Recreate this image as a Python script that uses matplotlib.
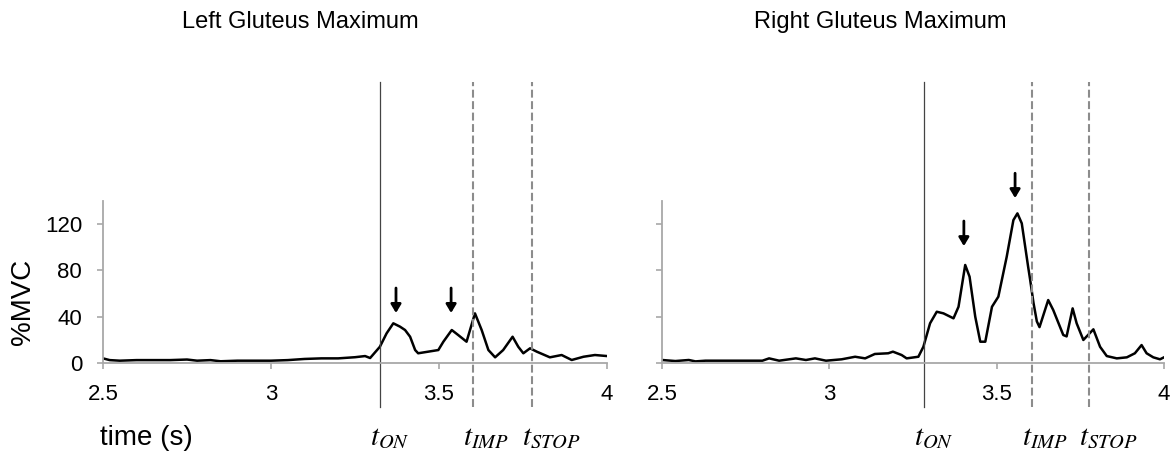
import matplotlib
matplotlib.use("Agg")
import matplotlib.pyplot as plt

plt.rcParams['font.family'] = 'Liberation Sans'
plt.rcParams['mathtext.fontset'] = 'stix'

# --- data ---
left_t = [2.50, 2.52, 2.55, 2.60, 2.65, 2.70, 2.75, 2.78, 2.82, 2.85, 2.90, 2.95, 3.00, 3.05,
          3.10, 3.15, 3.20, 3.25, 3.28, 3.295, 3.324, 3.344, 3.364, 3.384, 3.399, 3.414, 3.429,
          3.438, 3.468, 3.498, 3.513, 3.538, 3.557, 3.582, 3.607, 3.627, 3.647, 3.667, 3.691,
          3.719, 3.736, 3.751, 3.771, 3.791, 3.830, 3.865, 3.895, 3.930, 3.964, 4.0]
left_v = [4, 2.5, 2, 2.5, 2.5, 2.5, 3, 2, 2.5, 1.5, 2, 2, 2, 2.5,
          3.5, 4, 4, 5, 6, 4.3, 14, 25.6, 34.3, 31.4, 28.5, 22.7, 11.2,
          8.4, 9.8, 11.2, 18.4, 28.5, 24.2, 18.4, 42.9, 28.5, 11.2, 4.9, 11.2,
          22.7, 14, 8.4, 12.7, 9.8, 4.9, 6.9, 2.6, 5.4, 6.9, 6]

right_t = [2.50, 2.54, 2.58, 2.60, 2.63, 2.70, 2.80, 2.82, 2.85, 2.90, 2.93, 2.957, 2.99, 3.037,
           3.077, 3.107, 3.136, 3.176, 3.19, 3.216, 3.231, 3.266, 3.281, 3.301, 3.321, 3.341,
           3.371, 3.386, 3.406, 3.419, 3.436, 3.451, 3.466, 3.486, 3.505, 3.530, 3.550, 3.562,
           3.575, 3.594, 3.600, 3.610, 3.620, 3.628, 3.654, 3.669, 3.699, 3.709, 3.727, 3.739,
           3.759, 3.789, 3.809, 3.829, 3.859, 3.889, 3.913, 3.933, 3.948, 3.968, 3.988, 4.0]
right_v = [2.6, 1.7, 2.6, 1.4, 2, 2, 2, 4, 2, 4, 2.6, 4, 2, 3.2,
           5.4, 4, 7.8, 8.4, 9.8, 6.9, 4, 5.4, 14, 34.3, 44.3, 42.9,
           38.6, 48.6, 84.7, 74.6, 40, 18.4, 18.4, 48.6, 57.3, 91.8, 123.5, 129.3,
           120.7, 83.2, 72, 52, 36, 31, 54.4, 45.8, 24.2, 23, 47.2, 34.3,
           19.9, 29.1, 14, 6, 4, 4.9, 8.4, 15.5, 8.4, 4.9, 3.2, 4.9]

# event times: onset, impact, stop
left_events = [3.324, 3.601, 3.777]
right_events = [3.283, 3.605, 3.776]
event_labels = [r'$t_{ON}$', r'$t_{IMP}$', r'$t_{STOP}$']

# arrows: x, tail y, tip y
left_arrows = [(3.372, 64.8, 43.2), (3.536, 64.8, 43.2)]
right_arrows = [(3.402, 122.7, 101.0), (3.555, 164.0, 142.5)]

yticks = [0, 40, 80, 120]
xticks = [2.5, 3, 3.5, 4]
xticklabels = ['2.5', '3', '3.5', '4']

W, H = 1176, 468
fig = plt.figure(figsize=(W / 100, H / 100), dpi=100)

axis_grey = '#a8a8a8'


def make_panel(rect, t, v, events, arrows, show_ylabels):
    ax = fig.add_axes(rect)
    ax.plot(t, v, color='black', lw=1.8, solid_joinstyle='round')
    ax.set_xlim(2.5, 4)
    ax.set_ylim(0, 140)
    for s in ['top', 'right']:
        ax.spines[s].set_visible(False)
    for s in ['left', 'bottom']:
        ax.spines[s].set_color(axis_grey)
        ax.spines[s].set_linewidth(1.3)
    ax.set_xticks(xticks)
    ax.set_xticklabels(xticklabels)
    ax.set_yticks(yticks)
    if not show_ylabels:
        ax.set_yticklabels([])
    ax.tick_params(axis='x', direction='out', length=4, width=1.2, color=axis_grey,
                   labelsize=16, pad=11)
    ax.tick_params(axis='y', direction='out', length=4, width=1.2, color=axis_grey,
                   labelsize=16, pad=11)
    ax.patch.set_alpha(0)

    # event markers
    ax.axvline(events[0], ymin=-0.27, ymax=1.735, color='#444444', lw=0.9, clip_on=False)
    for x in events[1:]:
        ax.axvline(x, ymin=-0.27, ymax=1.735, color='#8c8c8c', lw=1.5,
                   dashes=(3.8, 1.7), clip_on=False)
    for x, lab in zip(events, event_labels):
        ax.annotate(lab, xy=(x, 0), xycoords=('data', 'axes fraction'),
                    xytext=(-7, -59), textcoords='offset points',
                    ha='left', va='baseline', fontsize=21, annotation_clip=False)

    for x, y0, y1 in arrows:
        ax.annotate('', xy=(x, y1), xytext=(x, y0),
                    arrowprops=dict(arrowstyle='-|>,head_length=0.5,head_width=0.3',
                                    lw=2, color='black', shrinkA=0, shrinkB=0),
                    annotation_clip=False)
    return ax


left_rect = [103 / W, 1 - 363 / H, 504 / W, 162 / H]
right_rect = [662 / W, 1 - 363 / H, 502 / W, 162 / H]

make_panel(left_rect, left_t, left_v, left_events, left_arrows, True)
make_panel(right_rect, right_t, right_v, right_events, right_arrows, False)

fig.text(300 / W, 1 - 22 / H, 'Left Gluteus Maximum', ha='center', va='center', fontsize=17)
fig.text(880 / W, 1 - 22 / H, 'Right Gluteus Maximum', ha='center', va='center', fontsize=17)
fig.text(23 / W, 1 - 302 / H, '%MVC', rotation=90, ha='center', va='center', fontsize=20)
fig.text(146 / W, 1 - 438 / H, 'time (s)', ha='center', va='center', fontsize=20)

fig.savefig('out.png', dpi=100)
